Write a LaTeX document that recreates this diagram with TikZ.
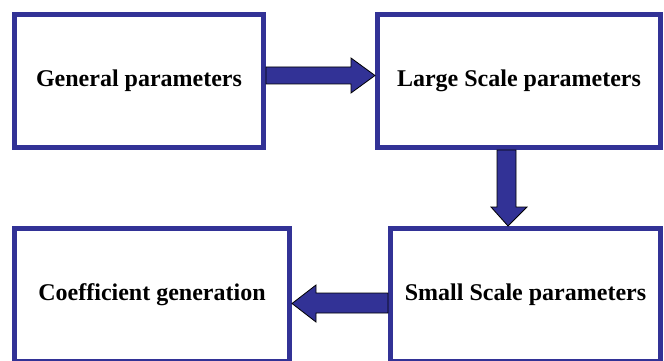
\documentclass[tikz,border=0pt]{standalone}
\usepackage{fontspec}
\setmainfont{Liberation Serif}
\usetikzlibrary{calc}
\definecolor{boxblue}{RGB}{50,50,150}
\begin{document}
\begin{tikzpicture}[x=1pt,y=-1pt,
  blockbox/.style={draw=boxblue, line width=5pt, fill=white, minimum width=#1,
    minimum height=133pt, inner sep=0pt,
    font=\fontsize{24}{28}\selectfont\bfseries, text=black},
  blockarrow/.style={fill=boxblue, draw=black, line width=0.8pt, line join=miter}]
\useasboundingbox (0,0) rectangle (664,361);
\node[blockbox=249pt] (b1) at (139,81) {General parameters};
\node[blockbox=283pt] (b2) at (519,81) {Large Scale parameters};
\node[blockbox=275pt] (b3) at (152,295) {Coefficient generation};
\node[blockbox=270pt] (b4) at (525.5,295) {Small Scale parameters};
% arrow b1 -> b2
\draw[blockarrow] (b1.east |- 0,67) -- (351,67) -- (351,58) -- (b2.west |- 0,75.5)
  -- (351,93) -- (351,84) -- (b1.east |- 0,84) -- cycle;
% arrow b2 -> b4
\draw[blockarrow] (497,0 |- b2.south) -- (497,207) -- (491,207) -- (508,0 |- b4.north)
  -- (527,207) -- (516,207) -- (516,0 |- b2.south) -- cycle;
% arrow b4 -> b3
\draw[blockarrow] (b4.west |- 0,293) -- (316,293) -- (316,285) -- (b3.east |- 0,303.5)
  -- (316,322) -- (316,313) -- (b4.west |- 0,313) -- cycle;
\end{tikzpicture}
\end{document}
